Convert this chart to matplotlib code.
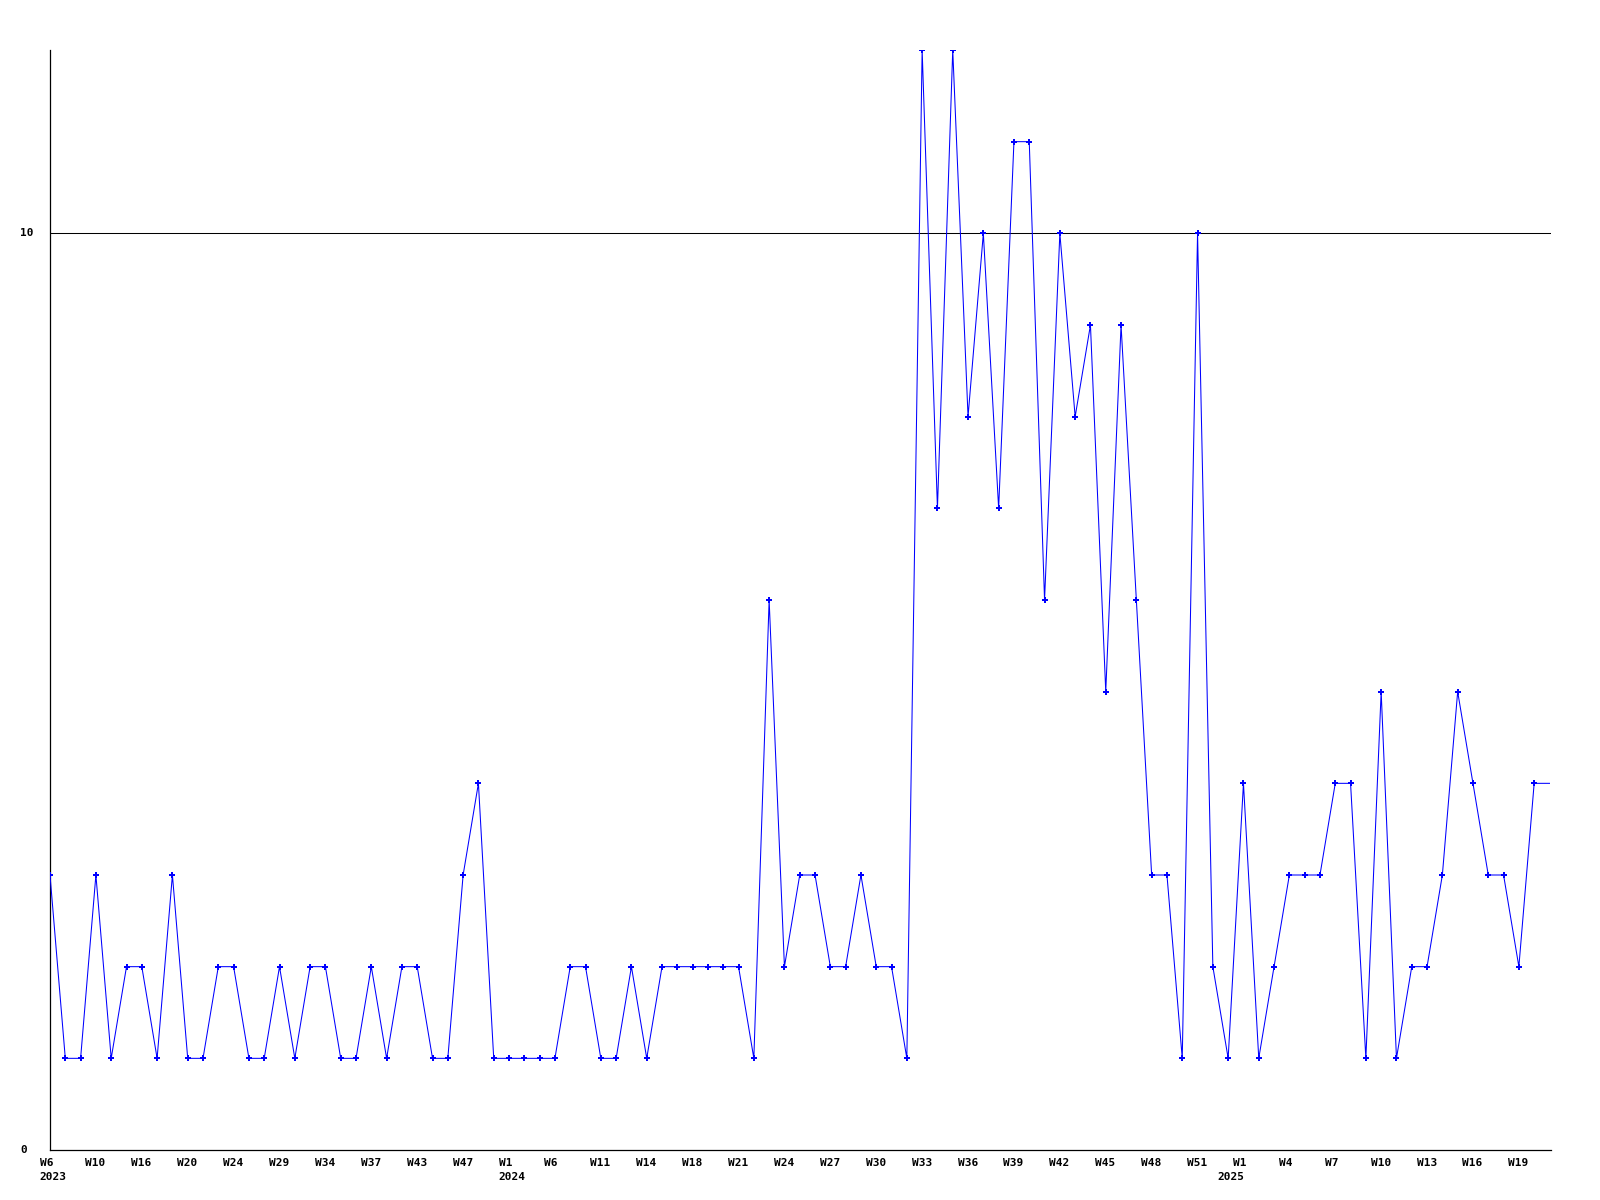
import matplotlib
matplotlib.use("Agg")
import matplotlib.pyplot as plt

values = [3, 1, 1, 3, 1, 2, 2, 1, 3, 1,
          1, 2, 2, 1, 1, 2, 1, 2, 2, 1,
          1, 2, 1, 2, 2, 1, 1, 3, 4, 1,
          1, 1, 1, 1, 2, 2, 1, 1, 2, 1,
          2, 2, 2, 2, 2, 2, 1, 6, 2, 3,
          3, 2, 2, 3, 2, 2, 1, 12, 7, 12,
          8, 10, 7, 11, 11, 6, 10, 8, 9, 5,
          9, 6, 3, 3, 1, 10, 2, 1, 4, 1,
          2, 3, 3, 3, 4, 4, 1, 5, 1, 2,
          2, 3, 5, 4, 3, 3, 2, 4, 4]

week_labels = ["W6", "W10", "W16", "W20", "W24", "W29", "W34", "W37", "W43", "W47",
               "W1", "W6", "W11", "W14", "W18", "W21", "W24", "W27", "W30", "W33",
               "W36", "W39", "W42", "W45", "W48", "W51", "W1", "W4", "W7", "W10",
               "W13", "W16", "W19"]
label_step = 3
year_labels = {0: "2023", 30: "2024", 78: "2025"}
y_ticks = [0, 10]

fig = plt.figure(figsize=(16, 12), dpi=100)
ax = fig.add_axes([50 / 1600, 50 / 1200, 1501 / 1600, 1100 / 1200])

x = list(range(len(values)))
ax.plot(x, values, color="#0000ff", lw=0.75, marker="P", ms=5, mew=0,
        markevery=list(range(len(values) - 1)), clip_on=True, zorder=3)
ax.axhline(10, color="black", lw=0.75, zorder=2)

ax.set_xlim(0, 98.1)
ax.set_ylim(0, 12)
for s in ["top", "right"]:
    ax.spines[s].set_visible(False)
for s in ["left", "bottom"]:
    ax.spines[s].set_linewidth(0.9)
    ax.spines[s].set_color("black")
ax.set_xticks([])
ax.set_yticks([])

font = dict(family="DejaVu Sans Mono", fontweight="bold", fontsize=8)

for k, lab in enumerate(week_labels):
    i = k * label_step
    ax.annotate(lab, xy=(i, 0), xycoords=("data", "axes fraction"),
                xytext=(-10.5, -8.5), textcoords="offset pixels",
                ha="left", va="top", annotation_clip=False, **font)

for i, yr in year_labels.items():
    dx = -25.7 if yr == "2025" else -10.5
    ax.annotate(yr, xy=(i, 0), xycoords=("data", "axes fraction"),
                xytext=(dx, -22.5), textcoords="offset pixels",
                ha="left", va="top", annotation_clip=False, **font)

for v in y_ticks:
    ax.annotate(str(v), xy=(0, v), xycoords=("axes fraction", "data"),
                xytext=(-30, 0), textcoords="offset pixels",
                ha="left", va="center", annotation_clip=False, **font)

fig.savefig("out.png", dpi=100, facecolor="white")
